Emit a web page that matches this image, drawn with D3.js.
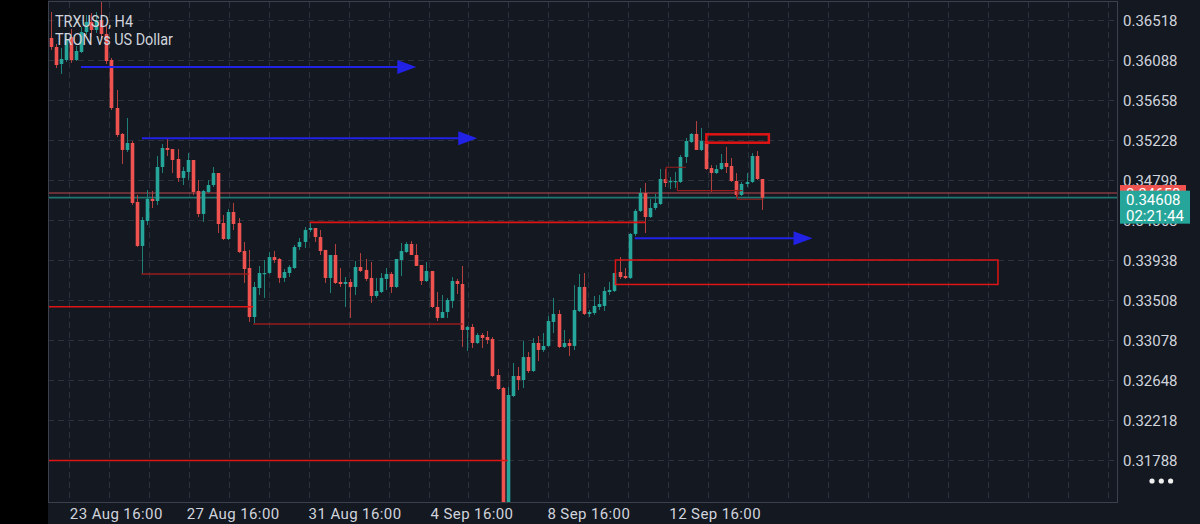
<!DOCTYPE html>
<html lang="en">
<head>
<meta charset="UTF-8">
<script src="https://cdnjs.cloudflare.com/ajax/libs/d3/7.8.5/d3.min.js"></script>
<title>TRXUSD, H4</title>
<style>
    html, body { margin: 0; padding: 0; background: #131821; }
    svg { display: block; font-family: Roboto, "Noto Sans", sans-serif; }
</style>
</head>
<body>
<script>
    // H4 candles, oldest first (bar index 0 = first visible bar)
    const opens = [
        0.36325, 0.36228, 0.36045, 0.36088, 0.36335, 0.36088, 0.36174, 0.36389, 0.36497, 0.36411,
        0.36518, 0.36368, 0.36088, 0.35572, 0.35293, 0.35121, 0.35196, 0.34562, 0.34089, 0.34357,
        0.34594, 0.34572, 0.34938, 0.35142, 0.35131, 0.35024, 0.34820, 0.34884, 0.35013, 0.34680,
        0.34433, 0.34669, 0.34744, 0.34873, 0.34336, 0.34164, 0.34454, 0.34336, 0.34035, 0.33852,
        0.33325, 0.33637, 0.33788, 0.33798, 0.33970, 0.33949, 0.33745, 0.33798, 0.33852, 0.34078,
        0.34132, 0.34261, 0.34282, 0.34185, 0.34046, 0.33745, 0.33992, 0.33702, 0.33680, 0.33702,
        0.33648, 0.33863, 0.33831, 0.33745, 0.33551, 0.33594, 0.33734, 0.33788, 0.33648, 0.33938,
        0.34024, 0.34110, 0.33992, 0.33884, 0.33712, 0.33820, 0.33433, 0.33315, 0.33379, 0.33497,
        0.33712, 0.33680, 0.33186, 0.33218, 0.33046, 0.33132, 0.33110, 0.33089, 0.32702, 0.32562,
        0.31197, 0.32476, 0.32691, 0.32648, 0.32895, 0.32745, 0.33046, 0.32971, 0.33014, 0.33272,
        0.33358, 0.33003, 0.33046, 0.33014, 0.33390, 0.33648, 0.33358, 0.33368, 0.33433, 0.33444,
        0.33594, 0.33605, 0.33809, 0.33766, 0.33745, 0.34218, 0.34465, 0.34658, 0.34400, 0.34497,
        0.34540, 0.34809, 0.34777, 0.34777, 0.34777, 0.35045, 0.35207, 0.35293, 0.35121, 0.35217,
        0.34927, 0.34873, 0.34916, 0.34981, 0.34949, 0.34787, 0.34637, 0.34755, 0.34777, 0.35056,
        0.34809
    ];
    const highs = [
        0.36604, 0.36260, 0.36217, 0.36368, 0.36421, 0.36239, 0.36443, 0.36572, 0.36593, 0.36604,
        0.36712, 0.36454, 0.36110, 0.35766, 0.35303, 0.35465, 0.35217, 0.34637, 0.34400, 0.34691,
        0.34680, 0.35056, 0.35185, 0.35239, 0.35131, 0.35131, 0.34938, 0.35088, 0.35013, 0.34798,
        0.34691, 0.34798, 0.34938, 0.34873, 0.34422, 0.34486, 0.34551, 0.34390, 0.34132, 0.34046,
        0.33702, 0.33874, 0.33938, 0.34024, 0.34035, 0.33960, 0.33841, 0.33884, 0.34099, 0.34175,
        0.34293, 0.34347, 0.34282, 0.34261, 0.34046, 0.33992, 0.34110, 0.33852, 0.33755, 0.33734,
        0.33927, 0.34013, 0.33949, 0.33917, 0.33745, 0.33798, 0.33852, 0.33809, 0.33949, 0.34121,
        0.34132, 0.34142, 0.34110, 0.33884, 0.33917, 0.33820, 0.33594, 0.33562, 0.33530, 0.33755,
        0.33734, 0.33874, 0.33229, 0.33250, 0.33153, 0.33153, 0.33175, 0.33110, 0.32766, 0.32573,
        0.32573, 0.32831, 0.32788, 0.33067, 0.32949, 0.33100, 0.33121, 0.33153, 0.33336, 0.33530,
        0.33401, 0.33186, 0.33089, 0.33669, 0.33788, 0.33798, 0.33401, 0.33551, 0.33562, 0.33648,
        0.33702, 0.33798, 0.33970, 0.33852, 0.34228, 0.34486, 0.34712, 0.34766, 0.34594, 0.34648,
        0.34916, 0.34916, 0.34830, 0.34884, 0.35067, 0.35250, 0.35303, 0.35432, 0.35357, 0.35228,
        0.34959, 0.34959, 0.35078, 0.35153, 0.35035, 0.34873, 0.34777, 0.34873, 0.35088, 0.35110,
        0.34809
    ];
    const lows = [
        0.36196, 0.36002, 0.35938, 0.36067, 0.36056, 0.36077, 0.36163, 0.36357, 0.36335, 0.36378,
        0.36325, 0.36045, 0.35551, 0.35260, 0.34970, 0.35099, 0.34529, 0.34078, 0.33788, 0.34314,
        0.34497, 0.34529, 0.34873, 0.35056, 0.34873, 0.34777, 0.34744, 0.34798, 0.34637, 0.34400,
        0.34347, 0.34658, 0.34723, 0.34228, 0.34153, 0.34153, 0.34261, 0.34013, 0.33691, 0.33272,
        0.33261, 0.33562, 0.33530, 0.33788, 0.33906, 0.33691, 0.33702, 0.33755, 0.33841, 0.34046,
        0.34067, 0.34239, 0.34132, 0.33992, 0.33691, 0.33583, 0.33680, 0.33648, 0.33433, 0.33315,
        0.33562, 0.33809, 0.33712, 0.33476, 0.33530, 0.33583, 0.33616, 0.33583, 0.33637, 0.33766,
        0.34013, 0.33992, 0.33874, 0.33669, 0.33702, 0.33422, 0.33282, 0.33315, 0.33315, 0.33422,
        0.33573, 0.33003, 0.32960, 0.32992, 0.33035, 0.32992, 0.33035, 0.32680, 0.32541, 0.31089,
        0.31121, 0.32465, 0.32541, 0.32562, 0.32723, 0.32734, 0.32852, 0.32949, 0.33003, 0.33153,
        0.32992, 0.32992, 0.32906, 0.32971, 0.33379, 0.33347, 0.33325, 0.33347, 0.33401, 0.33390,
        0.33562, 0.33594, 0.33734, 0.33734, 0.33734, 0.34196, 0.34454, 0.34228, 0.34390, 0.34476,
        0.34529, 0.34723, 0.34701, 0.34712, 0.34766, 0.34981, 0.35196, 0.35121, 0.35110, 0.34906,
        0.34669, 0.34863, 0.34906, 0.34873, 0.34777, 0.34615, 0.34626, 0.34723, 0.34766, 0.34798,
        0.34476
    ];
    const closes = [
        0.36228, 0.36034, 0.36099, 0.36303, 0.36088, 0.36185, 0.36389, 0.36497, 0.36411, 0.36518,
        0.36368, 0.36077, 0.35572, 0.35282, 0.35121, 0.35196, 0.34551, 0.34089, 0.34368, 0.34594,
        0.34572, 0.34938, 0.35142, 0.35121, 0.35013, 0.34820, 0.34895, 0.35013, 0.34669, 0.34433,
        0.34680, 0.34744, 0.34873, 0.34325, 0.34164, 0.34454, 0.34325, 0.34024, 0.33841, 0.33325,
        0.33648, 0.33798, 0.33798, 0.33970, 0.33938, 0.33745, 0.33809, 0.33863, 0.34078, 0.34132,
        0.34261, 0.34282, 0.34185, 0.34035, 0.33745, 0.33992, 0.33691, 0.33680, 0.33702, 0.33648,
        0.33863, 0.33820, 0.33734, 0.33551, 0.33605, 0.33745, 0.33788, 0.33648, 0.33949, 0.34035,
        0.34110, 0.33992, 0.33874, 0.33712, 0.33820, 0.33433, 0.33315, 0.33379, 0.33508, 0.33712,
        0.33680, 0.33186, 0.33218, 0.33046, 0.33132, 0.33100, 0.33078, 0.32691, 0.32551, 0.31197,
        0.32487, 0.32691, 0.32648, 0.32895, 0.32745, 0.33046, 0.32971, 0.33014, 0.33282, 0.33358,
        0.33003, 0.33046, 0.33014, 0.33401, 0.33648, 0.33358, 0.33379, 0.33444, 0.33465, 0.33605,
        0.33616, 0.33798, 0.33755, 0.33745, 0.34218, 0.34465, 0.34658, 0.34400, 0.34497, 0.34551,
        0.34809, 0.34766, 0.34787, 0.34787, 0.35045, 0.35217, 0.35293, 0.35121, 0.35217, 0.34916,
        0.34873, 0.34916, 0.34981, 0.34938, 0.34787, 0.34637, 0.34755, 0.34777, 0.35056, 0.34809,
        0.34608
    ];

    const priceTicks = [0.36518, 0.36088, 0.35658, 0.35228, 0.34798, 0.34368,
                        0.33938, 0.33508, 0.33078, 0.32648, 0.32218, 0.31788];
    const timeLabels = ['23 Aug 16:00', '27 Aug 16:00', '31 Aug 16:00', '4 Sep 16:00', '8 Sep 16:00', '12 Sep 16:00'];
    const timeBars = [4, 27, 51, 75, 98, 122];

    const bidPrice = 0.34608;
    const askPrice = 0.34658;
    const timer = '02:21:44';

    // drawn objects: price level + bar range
    const blueArrows = [
        {price: 0.36013, from: 6, to: 72},
        {price: 0.35246, from: 18, to: 84},
        {price: 0.34171, from: 115, to: 150}
    ];
    const redLevels = [
        {price: 0.34343, from: 51, to: 117.1},
        {price: 0.33436, from: -0.5, to: 39.9},
        {price: 0.31783, from: -0.5, to: 90}
    ];
    const darkLevels = [
        {price: 0.33788, from: 17.9, to: 39},
        {price: 0.33250, from: 39.9, to: 81.1}
    ];
    const redZones = [
        {top: 0.33938, bottom: 0.33675, from: 111.2, to: 186.5, w: 1.5},
        {top: 0.35289, bottom: 0.35199, from: 129.1, to: 141.4, w: 2.5}
    ];
    const smallMarks = [
        {p1: 0.34777, p2: 0.34935, from: 121.2, to: 125.1},
        {p1: 0.34780, p2: 0.34683, from: 123.4, to: 136.2},
        {p1: 0.34683, p2: 0.34591, from: 135.2, to: 140.4}
    ];

    const width = 1200;
    const height = 524;
    const plotLeft = 48, plotRight = 1118, plotTop = 2, plotBottom = 502;
    const barStep = 5.08;

    const bg = '#131821';
    const gridColor = '#2c323d';
    const textColor = '#d1d4dc';
    const upColor = '#26a69a';
    const downColor = '#ef5350';
    const blue = '#2222e6';
    const brightRed = '#e01414';
    const darkRed = '#991c1c';

    const bars = closes.map(function(c, i) {
        return {i: i, o: opens[i], h: highs[i], l: lows[i], c: c};
    });

    const x = d3.scaleLinear()
        .domain([-0.5, -0.5 + (plotRight - plotLeft) / barStep])
        .range([plotLeft, plotRight]);

    const y = d3.scaleLinear()
        .domain([priceTicks[priceTicks.length - 1], priceTicks[0]])
        .range([460, 20]);

    const svg = d3.select('body').append('svg')
        .attr('width', width)
        .attr('height', height);

    svg.append('rect').attr('width', width).attr('height', height).attr('fill', bg);
    svg.append('rect').attr('width', plotLeft).attr('height', height).attr('fill', '#000');

    svg.append('defs').append('clipPath').attr('id', 'plotClip')
        .append('rect')
        .attr('x', plotLeft).attr('y', plotTop)
        .attr('width', plotRight - plotLeft).attr('height', plotBottom - plotTop);

    // сетка
    const grid = svg.append('g').attr('class', 'grid');
    grid.selectAll('.gy')
        .data(priceTicks)
        .enter().append('line')
        .attr('x1', plotLeft).attr('x2', plotRight)
        .attr('y1', function(d) { return Math.round(y(d)) + 0.5; })
        .attr('y2', function(d) { return Math.round(y(d)) + 0.5; })
        .attr('stroke', gridColor)
        .attr('stroke-dasharray', '6,4');

    const gridStep = (x(timeBars[timeBars.length - 1]) - x(timeBars[0])) / 15;
    const gridStart = x(timeBars[0]) - 2;
    const gridXs = d3.range(-1, 27).map(function(k) { return gridStart + k * gridStep; })
        .filter(function(v) { return v > plotLeft && v < plotRight; });

    grid.selectAll('.gx')
        .data(gridXs)
        .enter().append('line')
        .attr('x1', function(d) { return Math.round(d) + 0.5; })
        .attr('x2', function(d) { return Math.round(d) + 0.5; })
        .attr('y1', plotTop).attr('y2', plotBottom)
        .attr('stroke', gridColor)
        .attr('stroke-dasharray', '6,4');

    const plot = svg.append('g').attr('clip-path', 'url(#plotClip)');

    // current bid / ask lines
    plot.append('line')
        .attr('x1', plotLeft).attr('x2', plotRight)
        .attr('y1', y(askPrice)).attr('y2', y(askPrice))
        .attr('stroke', '#b4474a').attr('stroke-opacity', 0.7).attr('stroke-width', 1.6);
    plot.append('line')
        .attr('x1', plotLeft).attr('x2', plotRight)
        .attr('y1', y(bidPrice)).attr('y2', y(bidPrice))
        .attr('stroke', '#239087').attr('stroke-opacity', 0.8).attr('stroke-width', 1.6);

    // свечи
    const candles = plot.selectAll('.candle')
        .data(bars)
        .enter().append('g')
        .attr('class', 'candle');

    candles.append('line')
        .attr('x1', function(d) { return Math.round(x(d.i)) + 0.5; })
        .attr('x2', function(d) { return Math.round(x(d.i)) + 0.5; })
        .attr('y1', function(d) { return y(d.h); })
        .attr('y2', function(d) { return y(d.l); })
        .attr('stroke', function(d) { return d.c >= d.o ? '#1f8077' : '#b2403f'; })
        .attr('stroke-width', 1);

    candles.append('rect')
        .attr('x', function(d) { return Math.round(x(d.i)) - 1.3; })
        .attr('width', 3.6)
        .attr('y', function(d) { return y(Math.max(d.o, d.c)); })
        .attr('height', function(d) { return Math.max(1.2, Math.abs(y(d.o) - y(d.c))); })
        .attr('fill', function(d) { return d.c >= d.o ? upColor : downColor; });

    // levels
    plot.selectAll('.lvl')
        .data(redLevels)
        .enter().append('line')
        .attr('x1', function(d) { return x(d.from); })
        .attr('x2', function(d) { return x(d.to); })
        .attr('y1', function(d) { return y(d.price); })
        .attr('y2', function(d) { return y(d.price); })
        .attr('stroke', brightRed).attr('stroke-width', 1.6);

    plot.selectAll('.lvl-dark')
        .data(darkLevels)
        .enter().append('line')
        .attr('x1', function(d) { return x(d.from); })
        .attr('x2', function(d) { return x(d.to); })
        .attr('y1', function(d) { return y(d.price); })
        .attr('y2', function(d) { return y(d.price); })
        .attr('stroke', darkRed).attr('stroke-width', 1.6);

    plot.selectAll('.zone')
        .data(redZones)
        .enter().append('rect')
        .attr('x', function(d) { return x(d.from); })
        .attr('y', function(d) { return y(d.top); })
        .attr('width', function(d) { return x(d.to) - x(d.from); })
        .attr('height', function(d) { return y(d.bottom) - y(d.top); })
        .attr('fill', 'none')
        .attr('stroke', brightRed)
        .attr('stroke-width', function(d) { return d.w; });

    plot.selectAll('.mark')
        .data(smallMarks)
        .enter().append('path')
        .attr('d', function(d) {
            return 'M' + x(d.from) + ',' + y(d.p1) + 'V' + y(d.p2) + 'H' + x(d.to);
        })
        .attr('fill', 'none')
        .attr('stroke', darkRed)
        .attr('stroke-width', 1.2);

    // стрелки
    const headLen = 19, headHalf = 7;
    const arrows = plot.selectAll('.arrow')
        .data(blueArrows)
        .enter().append('g');

    arrows.append('line')
        .attr('x1', function(d) { return x(d.from); })
        .attr('x2', function(d) { return x(d.to) - headLen + 2; })
        .attr('y1', function(d) { return y(d.price); })
        .attr('y2', function(d) { return y(d.price); })
        .attr('stroke', blue).attr('stroke-width', 2);

    arrows.append('path')
        .attr('d', function(d) {
            const tx = x(d.to), ty = y(d.price);
            return 'M' + tx + ',' + ty + 'L' + (tx - headLen) + ',' + (ty - headHalf) +
                'L' + (tx - headLen) + ',' + (ty + headHalf) + 'Z';
        })
        .attr('fill', blue);

    // рамка
    svg.append('rect')
        .attr('x', plotLeft + 0.5).attr('y', plotTop - 0.5)
        .attr('width', plotRight - plotLeft - 1).attr('height', plotBottom - plotTop + 1)
        .attr('fill', 'none').attr('stroke', '#3a404c');

    // price axis
    svg.selectAll('.ptick')
        .data(priceTicks)
        .enter().append('text')
        .attr('x', plotRight + 5)
        .attr('y', function(d) { return y(d) + 5.5; })
        .attr('fill', textColor)
        .style('font-size', '15px')
        .text(function(d) { return d.toFixed(5); });

    // time axis
    svg.selectAll('.ttick')
        .data(timeLabels)
        .enter().append('text')
        .attr('x', function(d, i) { return x(timeBars[i]) - 1; })
        .attr('y', 519)
        .attr('fill', textColor)
        .style('font-size', '15px')
        .style('letter-spacing', '0.4px')
        .text(function(d) { return d; });

    // ask / bid labels
    svg.append('rect')
        .attr('x', plotRight + 2).attr('y', y(askPrice) - 8)
        .attr('width', 66).attr('height', 16)
        .attr('fill', downColor);
    svg.append('text')
        .attr('x', plotRight + 8).attr('y', y(askPrice) + 5.5)
        .attr('fill', '#fff').style('font-size', '15px')
        .text(askPrice.toFixed(5));

    svg.append('rect')
        .attr('x', plotRight + 2).attr('y', y(bidPrice) - 7)
        .attr('width', 70).attr('height', 33)
        .attr('fill', upColor);
    svg.append('text')
        .attr('x', plotRight + 8).attr('y', y(bidPrice) + 7)
        .attr('fill', '#fff').style('font-size', '15px')
        .text(bidPrice.toFixed(5));
    svg.append('text')
        .attr('x', plotRight + 8).attr('y', y(bidPrice) + 23.5)
        .attr('fill', '#fff').style('font-size', '15px')
        .text(timer);

    // title
    svg.append('text')
        .attr('x', 55).attr('y', 27)
        .attr('fill', textColor).style('font-size', '16px')
        .attr('textLength', 78).attr('lengthAdjust', 'spacingAndGlyphs')
        .text('TRXUSD, H4');
    svg.append('text')
        .attr('x', 55).attr('y', 45)
        .attr('fill', textColor).style('font-size', '16px')
        .attr('textLength', 118).attr('lengthAdjust', 'spacingAndGlyphs')
        .text('TRON vs US Dollar');

    // menu dots
    svg.selectAll('.dot')
        .data([0, 1, 2])
        .enter().append('circle')
        .attr('cx', function(d) { return 1152 + d * 9.3; })
        .attr('cy', 481)
        .attr('r', 2.6)
        .attr('fill', '#f0f0f0');
</script>
</body>
</html>
